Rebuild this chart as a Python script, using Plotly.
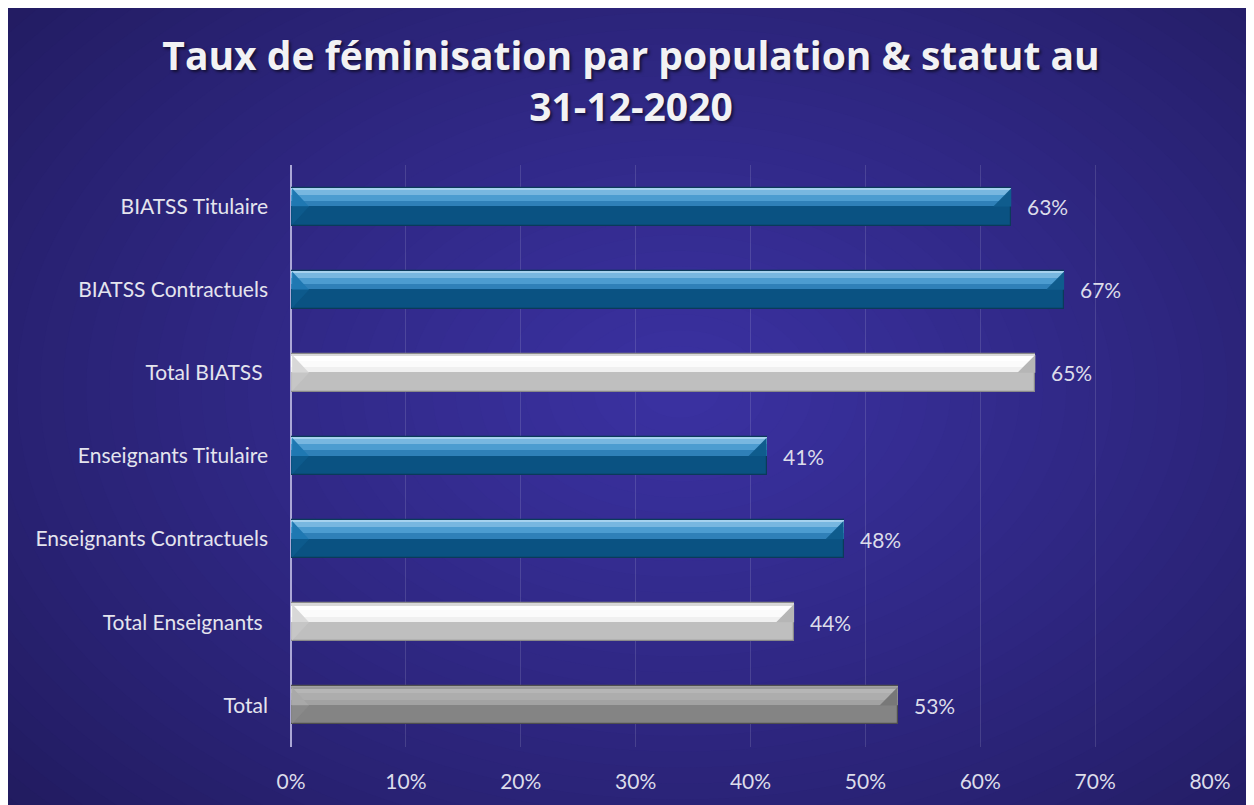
import plotly.graph_objects as go

# ---------------- data ----------------
categories = ["BIATSS Titulaire", "BIATSS Contractuels", "Total BIATSS ",
              "Enseignants Titulaire", "Enseignants Contractuels",
              "Total Enseignants ", "Total"]
values = [0.627, 0.673, 0.648, 0.414, 0.481, 0.438, 0.528]
value_labels = ["63%", "67%", "65%", "41%", "48%", "44%", "53%"]
kinds = ["detail", "detail", "subtotal", "detail", "detail", "subtotal", "total"]
x_ticks = [0, 0.1, 0.2, 0.3, 0.4, 0.5, 0.6, 0.7, 0.8]
x_tick_labels = ["0%", "10%", "20%", "30%", "40%", "50%", "60%", "70%", "80%"]

# ---------------- style ----------------
OFF = 8                       # page body margin
W, H = 1254 - OFF, 805 - OFF
ML = 291 - OFF
MT = 165 - OFF
MR = W - (1210 - OFF)
MB = H - (747 - OFF)
PW, PH = W - ML - MR, H - MT - MB

palette = {
    "detail":   dict(base="#0a5282", edge="#0b3a5a", upper="#2f80b8", hi1="#4c9cd0",
                     hi2="#78b7e0", strip="#a6d2ee", rface="#0f5c8d",
                     lface_u="#1f78b2", lface_l="#0d5a8c"),
    "subtotal": dict(base="#bfbfbf", edge="#8a8a8a", upper="#f0f0f0", hi1="#fbfbfb",
                     hi2="#ffffff", strip="#d9d9d9", rface="#b6b6b6",
                     lface_u="#d8d8d8", lface_l="#c6c6c6"),
    "total":    dict(base="#848484", edge="#4f4f4f", upper="#a2a2a2", hi1="#adadad",
                     hi2="#b6b6b6", strip="#9a9a9a", rface="#787878",
                     lface_u="#a9a9a9", lface_l="#8a8a8a"),
}

idx = list(range(len(categories)))
HALF = 0.229           # half bar thickness (category units)
BEV_X = 0.8 * 18 / PW  # bevel width in data units (18 px)

fig = go.Figure()

def layer(key, offset, width, line=None):
    fig.add_trace(go.Bar(
        x=values, y=idx, orientation="h",
        marker=dict(color=[palette[k][key] for k in kinds],
                    line=dict(width=line[0] if line else 0,
                              color=[palette[k][line[1]] for k in kinds] if line else None)),
        width=width, offset=offset, hoverinfo="skip", showlegend=False))

layer("base", -HALF, 2 * HALF, line=(1.2, "edge"))
layer("upper", -HALF, HALF * 0.98)
layer("hi1", -HALF + 0.01, 0.15)
layer("hi2", -HALF + 0.01, 0.075)
layer("strip", -HALF + 0.004, 0.024)

# bevel faces (derived from values and category positions)
for i, (v, k) in enumerate(zip(values, kinds)):
    c = palette[k]
    top, mid, bot = i - HALF + 0.01, i, i + HALF - 0.01
    fig.add_trace(go.Scatter(x=[v, v, v - BEV_X, v], y=[top, mid, mid, top], mode="lines",
                             fill="toself", fillcolor=c["rface"], line=dict(width=0),
                             hoverinfo="skip", showlegend=False))
    fig.add_trace(go.Scatter(x=[0.001, BEV_X, 0.001, 0.001], y=[top, mid, mid, top], mode="lines",
                             fill="toself", fillcolor=c["lface_u"], line=dict(width=0),
                             hoverinfo="skip", showlegend=False))
    fig.add_trace(go.Scatter(x=[0.001, BEV_X, 0.001, 0.001], y=[mid, mid, bot, mid], mode="lines",
                             fill="toself", fillcolor=c["lface_l"], line=dict(width=0),
                             hoverinfo="skip", showlegend=False))

# value labels
for i, (v, t) in enumerate(zip(values, value_labels)):
    fig.add_annotation(x=v, y=i, text=t, showarrow=False, xanchor="left", xshift=14,
                       font=dict(family="Lato, Calibri, sans-serif", size=21, color="#dcdcea"))

# ---------------- background (radial gradient via stacked ellipses) ----------------
def px2paper(px, py):
    # px, py in reference-image pixels
    px -= OFF
    py -= OFF
    return (px - ML) / PW, (H - MB - py) / PH

shapes = []
outer = (0x20, 0x1a, 0x5c)
inner = (0x3a, 0x31, 0xa0)
cx, cy = 680, 390
N = 40
dx0, dy0 = px2paper(0, 820)
dx1, dy1 = px2paper(1270, 0)
shapes.append(dict(type="rect", xref="paper", yref="paper", x0=dx0, x1=dx1, y0=dy0, y1=dy1,
                   fillcolor="rgb(%d,%d,%d)" % outer, line=dict(width=0), layer="below"))
for s in range(N):
    f = s / (N - 1)
    rx = 900 * (1 - f) + 40
    ry = 620 * (1 - f) + 28
    col = tuple(round(o + (n - o) * f ** 0.9) for o, n in zip(outer, inner))
    x0, y0 = px2paper(cx - rx, cy + ry)
    x1, y1 = px2paper(cx + rx, cy - ry)
    shapes.append(dict(type="circle", xref="paper", yref="paper", x0=x0, y0=y0, x1=x1, y1=y1,
                       fillcolor="rgb(%d,%d,%d)" % col, line=dict(width=0), layer="below"))

fig.update_layout(
    width=W, height=H,
    margin=dict(l=ML, r=MR, t=MT, b=MB, pad=0),
    paper_bgcolor="white", plot_bgcolor="rgba(0,0,0,0)",
    barmode="overlay", bargap=0,
    shapes=shapes,
    title=dict(text="Taux de féminisation par population & statut au<br>31-12-2020",
               x=(631 - OFF) / W, xanchor="center", xref="container",
               y=1 - (70 - OFF) / H, yanchor="middle", yref="container",
               font=dict(family="Open Sans, sans-serif", size=39, color="#f2f2f4", weight=700,
                         shadow="2px 2px 3px rgba(0,0,0,0.55)")),
    xaxis=dict(range=[0, 0.8], tickvals=x_ticks, ticktext=x_tick_labels,
               showgrid=True, gridcolor="rgba(255,255,255,0.13)", gridwidth=1.2,
               zeroline=True, zerolinecolor="#aba7d6", zerolinewidth=2.2,
               showline=False, ticks="", ticklabelstandoff=20,
               tickfont=dict(family="Lato, Calibri, sans-serif", size=21, color="#dcdcea"),
               fixedrange=True),
    yaxis=dict(range=[len(categories) - 0.5, -0.5], tickvals=idx, ticktext=categories,
               showgrid=False, zeroline=False, showline=False, ticks="", ticklabelstandoff=22,
               tickfont=dict(family="Lato, Calibri, sans-serif", size=21, color="#e4e4ee"),
               fixedrange=True),
)

fig.write_html("out.html")
